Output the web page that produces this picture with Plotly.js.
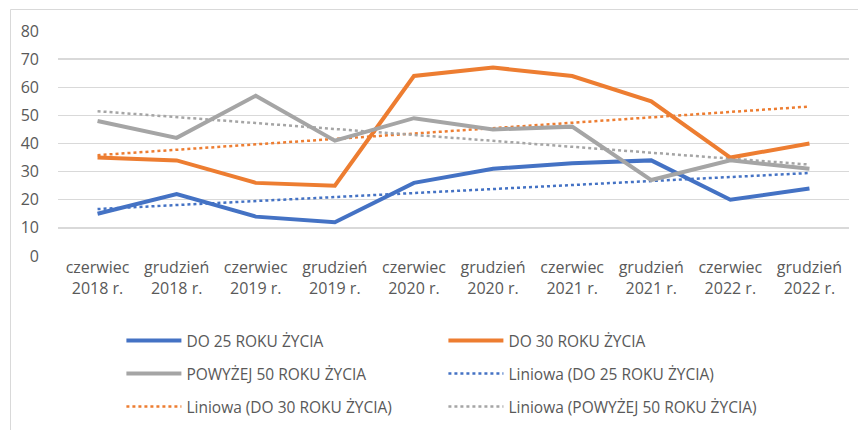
<!DOCTYPE html>
<html>
<head>
<meta charset="utf-8">
<script src="https://cdn.plot.ly/plotly-3.0.1.min.js"></script>
<style>html,body{margin:0;padding:0;background:#fff;}#chart{width:858px;height:430px;}</style>
</head>
<body>
<div id="chart"></div>
<script>
const categories = ["czerwiec<br>2018 r.","grudzień<br>2018 r.","czerwiec<br>2019 r.","grudzień<br>2019 r.","czerwiec<br>2020 r.","grudzień<br>2020 r.","czerwiec<br>2021 r.","grudzień<br>2021 r.","czerwiec<br>2022 r.","grudzień<br>2022 r."];
const do25 = [15, 22, 14, 12, 26, 31, 33, 34, 20, 24];
const do30 = [35, 34, 26, 25, 64, 67, 64, 55, 35, 40];
const pow50 = [48, 42, 57, 41, 49, 45, 46, 27, 34, 31];
const names = ["DO 25 ROKU ŻYCIA","DO 30 ROKU ŻYCIA","POWYŻEJ 50 ROKU ŻYCIA"];
const colors = ["#4472C4","#ED7D31","#A5A5A5"];

// Linear trend (least squares) computed from the series values, as Excel's "Liniowa" trendline
function trend(y){
  const n=y.length; let sx=0,sy=0,sxy=0,sxx=0;
  for(let i=0;i<n;i++){sx+=i;sy+=y[i];sxy+=i*y[i];sxx+=i*i;}
  const b=(n*sxy-sx*sy)/(n*sxx-sx*sx); const a=(sy-b*sx)/n;
  return y.map((_,i)=>a+b*i);
}
const FONT = "Open Sans, Noto Sans, sans-serif";
const TXT = "#595959";
const series=[do25,do30,pow50];
const main = series.map((s,k)=>({x:categories,y:s,type:"scatter",mode:"lines",name:names[k],
  line:{color:colors[k],width:4},hoverinfo:"skip"}));
const tr = series.map((s,k)=>({x:categories,y:trend(s),type:"scatter",mode:"lines",name:"Liniowa ("+names[k]+")",
  line:{color:colors[k],width:2.5,dash:"dot"},hoverinfo:"skip"}));
// legend rows: [DO25, DO30], [POW50, Lin25], [Lin30, Lin50]
main[0].legend="legend"; main[0].legendrank=1;
main[1].legend="legend"; main[1].legendrank=2;
main[2].legend="legend2"; main[2].legendrank=1;
tr[0].legend="legend2"; tr[0].legendrank=2;
tr[1].legend="legend3"; tr[1].legendrank=1;
tr[2].legend="legend3"; tr[2].legendrank=2;
const data=[tr[0],tr[1],tr[2],main[0],main[1],main[2]];
const legBase = {orientation:"h",xref:"container",yref:"container",x:0.1415,xanchor:"left",yanchor:"middle",
  itemwidth:55,entrywidth:252,entrywidthmode:"pixels",font:{family:FONT,size:15.5,color:TXT},bgcolor:"rgba(0,0,0,0)"};
const layout={
  width:858,height:430,
  margin:{l:58,r:9,t:31,b:174},
  paper_bgcolor:"#fff",plot_bgcolor:"#fff",
  font:{family:FONT,color:TXT,size:16},
  showlegend:true,
  xaxis:{type:"category",range:[-0.5,9.5],showgrid:false,zeroline:false,showline:false,ticks:"",
    tickfont:{family:FONT,size:16,color:TXT},fixedrange:true},
  yaxis:{range:[0,80],dtick:10,tick0:0,showgrid:true,gridcolor:"#D9D9D9",gridwidth:1.3,zeroline:false,showline:false,
    ticks:"",ticklabelstandoff:18,tickfont:{family:FONT,size:16,color:TXT},fixedrange:true},
  legend:Object.assign({},legBase,{y:1-341/430}),
  legend2:Object.assign({},legBase,{y:1-374/430}),
  legend3:Object.assign({},legBase,{y:1-407/430}),
  shapes:[{type:"rect",xref:"paper",yref:"paper",x0:(10.5-58)/791,x1:1.2,y0:-1,y1:1+(31-9.5)/225,
    line:{color:"#D9D9D9",width:1},fillcolor:"rgba(0,0,0,0)",layer:"below"}]
};
Plotly.newPlot("chart",data,layout,{displayModeBar:false,staticPlot:true});
</script>
</body>
</html>
